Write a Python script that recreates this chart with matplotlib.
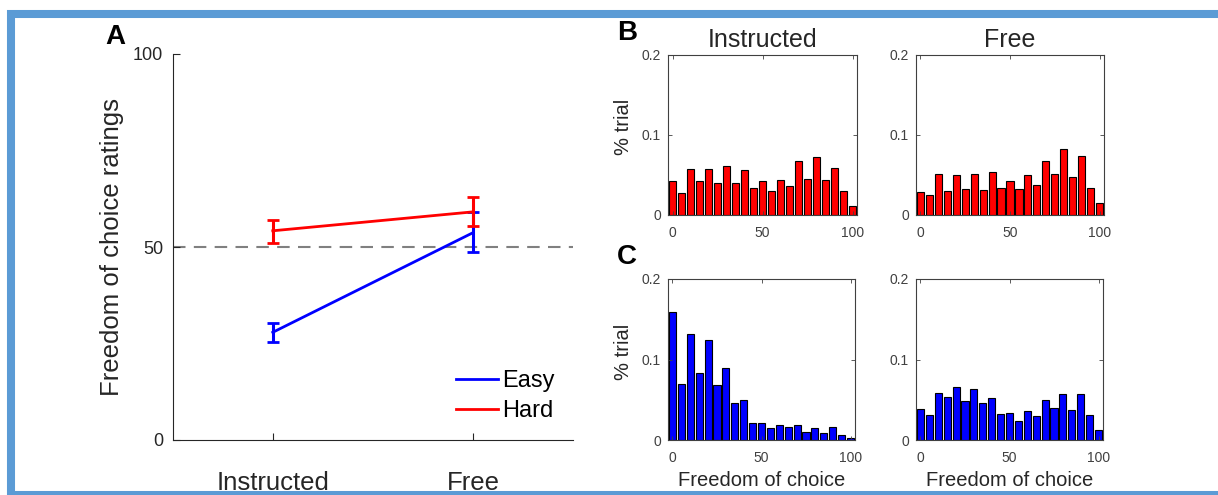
import numpy as np
from matplotlib import pyplot as plt
from matplotlib.patches import Rectangle

plt.rcParams["font.family"] = ["Liberation Sans", "DejaVu Sans"]

W, H = 1218, 495

# panel A: mean ratings with error bars
conditions = ["Instructed", "Free"]
easy_mean = [27.9, 53.7]
easy_lo = [25.3, 48.6]
easy_hi = [30.2, 59.1]
hard_mean = [54.2, 59.1]
hard_lo = [51.1, 55.4]
hard_hi = [57.0, 63.0]

# panels B/C: histograms of ratings
bins = np.arange(0, 101, 5)
hard_instructed = [0.042, 0.028, 0.0575, 0.043, 0.0575, 0.040, 0.061, 0.040, 0.056, 0.034, 0.043,
                   0.030, 0.044, 0.036, 0.067, 0.045, 0.072, 0.044, 0.059, 0.030, 0.011]
hard_free = [0.029, 0.025, 0.051, 0.030, 0.050, 0.032, 0.051, 0.031, 0.054, 0.034, 0.043,
             0.0325, 0.050, 0.0375, 0.068, 0.051, 0.082, 0.048, 0.074, 0.034, 0.015]
easy_instructed = [0.159, 0.070, 0.132, 0.083, 0.124, 0.068, 0.089, 0.046, 0.050, 0.021, 0.021,
                   0.0145, 0.0187, 0.016, 0.0187, 0.010, 0.0145, 0.009, 0.016, 0.0066, 0.003]
easy_free = [0.0386, 0.031, 0.059, 0.053, 0.066, 0.049, 0.063, 0.046, 0.052, 0.032, 0.033,
             0.024, 0.036, 0.030, 0.050, 0.040, 0.057, 0.037, 0.057, 0.031, 0.012]

axcol = "#262626"
RED = "#ff0000"
BLUE = "#0000ff"


def px_axes(fig, x0, x1, y0, y1):
    # pixel box (top-left origin) -> figure fraction
    return fig.add_axes([x0 / W, (H - y1) / H, (x1 - x0) / W, (y1 - y0) / H])


fig = plt.figure(figsize=(W / 100, H / 100), dpi=100)

# ---- A ----
axA = px_axes(fig, 172.7, 573, 54, 440)
x = np.array([1, 2])
axA.axhline(50, color="#808080", lw=1.5, ls=(0, (6, 4)), zorder=1)
axA.errorbar(x, easy_mean,
             yerr=[np.subtract(easy_mean, easy_lo), np.subtract(easy_hi, easy_mean)],
             color=BLUE, lw=2, elinewidth=2.2, capsize=4, capthick=2, label="Easy")
axA.errorbar(x, hard_mean,
             yerr=[np.subtract(hard_mean, hard_lo), np.subtract(hard_hi, hard_mean)],
             color=RED, lw=2, elinewidth=2.2, capsize=4, capthick=2, label="Hard")
axA.set_xlim(0.5, 2.5)
axA.set_ylim(0, 100)
axA.set_xticks(x)
axA.set_xticklabels(conditions)
axA.set_yticks([0, 50, 100])
axA.spines[["top", "right"]].set_visible(False)
for s in axA.spines.values():
    s.set_color(axcol)
axA.tick_params(axis="x", direction="in", pad=22, labelsize=18.5, colors=axcol, length=5)
axA.tick_params(axis="y", direction="in", pad=7, labelsize=13, colors=axcol, length=5)
axA.set_ylabel("Freedom of choice ratings", fontsize=18.5, color=axcol, labelpad=6)
handles, labels = axA.get_legend_handles_labels()
handles = [h[0] for h in handles]
axA.legend(handles, labels, loc="upper left", bbox_to_anchor=(0.685, 0.205), frameon=False,
           fontsize=17, handlelength=1.75, handletextpad=0.2, labelspacing=0.33, borderaxespad=0)
fig.text(115 / W, 1 - 37 / H, "A", fontsize=20, fontweight="bold", ha="center", va="center")

# ---- B / C ----
boxes = [
    (668, 857, 55, 215, hard_instructed, RED, "Instructed", False),
    (916, 1104, 55, 215, hard_free, RED, "Free", False),
    (668, 855, 279, 440, easy_instructed, BLUE, None, True),
    (916, 1103, 279, 440, easy_free, BLUE, None, True),
]
for i, (x0, x1, y0, y1, vals, col, title, bottom) in enumerate(boxes):
    ax = px_axes(fig, x0, x1, y0, y1)
    ax.bar(bins, vals, width=4, color=col, edgecolor="black", lw=0.8)
    ax.set_xlim(-2.5, 102.5)
    ax.set_ylim(0, 0.2)
    ax.set_xticks([0, 50, 100])
    ax.set_yticks([0, 0.1, 0.2])
    ax.set_yticklabels(["0", "0.1", "0.2"])
    ax.tick_params(direction="in", top=True, right=True, length=3, labelsize=10,
                   colors="#404040", width=0.6)
    ax.tick_params(axis="x", pad=8)
    ax.tick_params(axis="y", pad=5)
    for s in ax.spines.values():
        s.set_color("#404040")
        s.set_linewidth(0.8)
    if title:
        ax.set_title(title, fontsize=18, color=axcol, pad=6)
    if i % 2 == 0:
        ax.set_ylabel("% trial", fontsize=14.5, color=axcol)
        ax.yaxis.set_label_coords(-0.185, 0.55)
    if bottom:
        ax.set_xlabel("Freedom of choice", fontsize=14.5, color=axcol, labelpad=4)

fig.text(627 / W, 1 - 33 / H, "B", fontsize=20, fontweight="bold", ha="center", va="center")
fig.text(627 / W, 1 - 257 / H, "C", fontsize=20, fontweight="bold", ha="center", va="center")

# blue frame around the figure
fig.add_artist(Rectangle((11 / W, (H - 494.5) / H), (1240 - 11) / W, (494.5 - 14) / H,
                         transform=fig.transFigure, fill=False, edgecolor="#5b9bd5", lw=5.8,
                         clip_on=False))

fig.savefig("out.png", dpi=100)
